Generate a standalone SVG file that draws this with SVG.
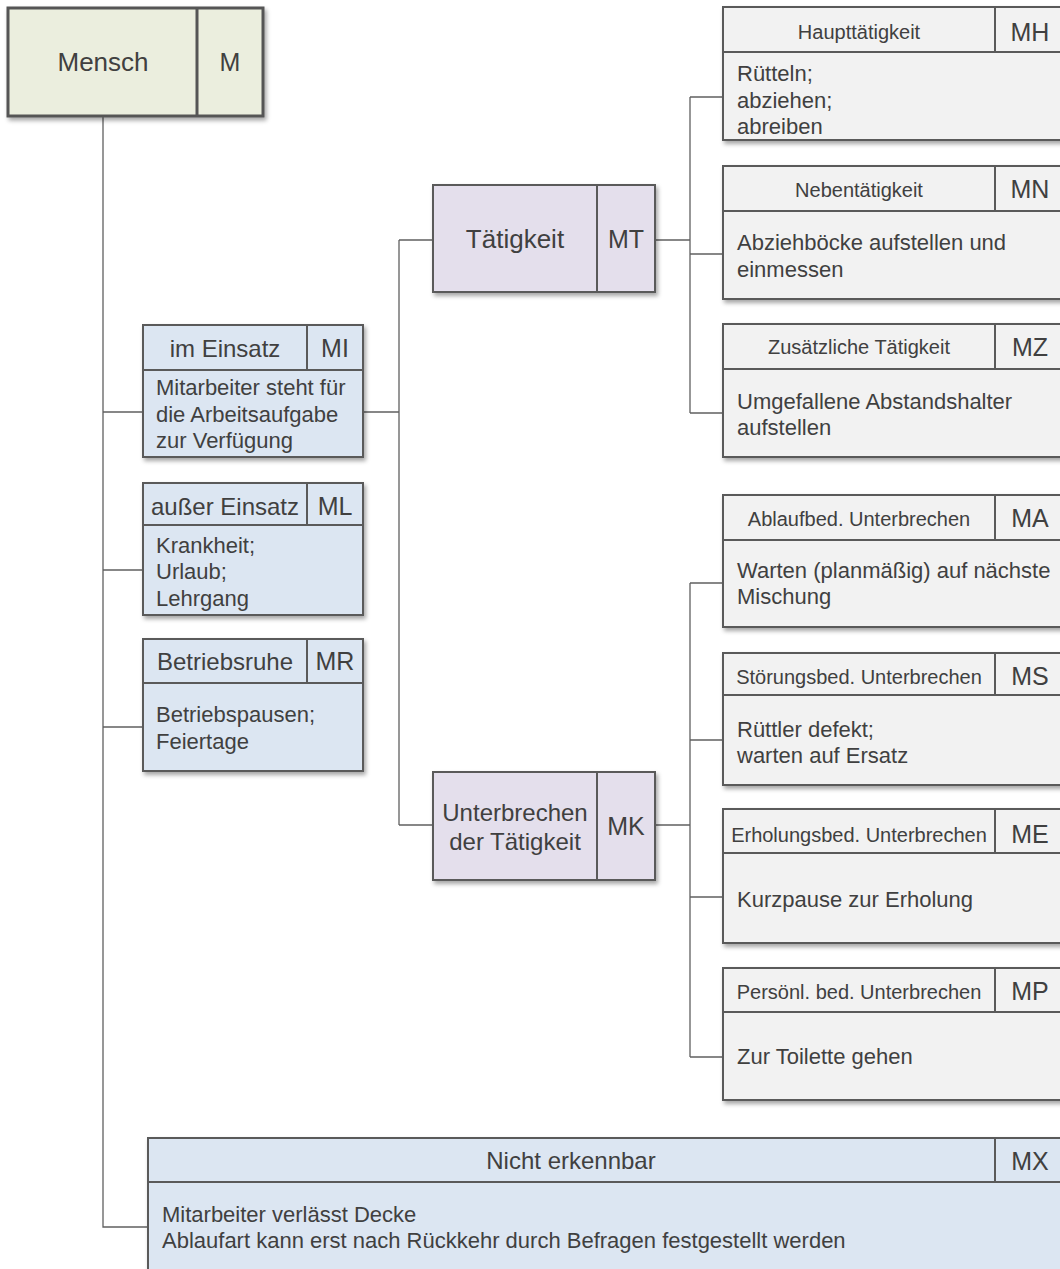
<svg xmlns="http://www.w3.org/2000/svg" width="1060" height="1269" viewBox="0 0 1060 1269">
  <defs>
    <filter id="shadow" x="-5%" y="-5%" width="115%" height="120%">
      <feDropShadow dx="2" dy="3" stdDeviation="2" flood-color="#000" flood-opacity="0.35"/>
    </filter>
  </defs>
  <style>
    text { font-family: "Liberation Sans", Arial, sans-serif; fill: #404040; }
    .box { stroke: #5a5a5a; stroke-width: 2; filter: url(#shadow); }
    .root { fill: #EBEEDE; stroke: #555; stroke-width: 3; filter: url(#shadow); }
    .blue { fill: #DCE6F2; }
    .lav { fill: #E4DFEC; }
    .grey { fill: #F2F2F2; }
    .div { stroke: #5a5a5a; stroke-width: 2; fill: none; }
    .div3 { stroke: #555; stroke-width: 3; fill: none; }
    .conn { stroke: #606060; stroke-width: 1.3; fill: none; }
    .big { font-size: 26px; text-anchor: middle; }
    .mid { font-size: 24px; text-anchor: middle; }
    .code { font-size: 25px; text-anchor: middle; }
    .hdr { font-size: 20px; text-anchor: middle; }
    .body { font-size: 22px; }
  </style>

  <!-- connectors -->
  <g id="connectors">
    <path class="conn" d="M103 116 V1227 H148"/>
    <path class="conn" d="M103 412 H143 M103 570 H143 M103 727 H143"/>
    <path class="conn" d="M363 412 H399 M399 240 V825 M399 240 H433 M399 825 H433"/>
    <path class="conn" d="M655 240 H690 M690 97 V413 M690 97 H723 M690 254 H723 M690 413 H723"/>
    <path class="conn" d="M655 825 H690 M690 583 V1057 M690 583 H723 M690 740 H723 M690 897 H723 M690 1057 H723"/>
  </g>

  <!-- root -->
  <g id="node-M">
    <rect class="root" x="8" y="8" width="255" height="108"/>
    <line class="div3" x1="197" y1="8" x2="197" y2="116"/>
    <text class="big" x="103" y="71">Mensch</text>
    <text class="code" x="230" y="71">M</text>
  </g>

  <!-- level 1 -->
  <g id="node-MI">
    <rect class="box blue" x="143" y="325" width="220" height="132"/>
    <path class="div" d="M143 370 H363 M307 325 V370"/>
    <text class="mid" x="225" y="357">im Einsatz</text>
    <text class="code" x="335" y="357">MI</text>
    <text class="body" x="156" y="395">Mitarbeiter steht für</text>
    <text class="body" x="156" y="421.5">die Arbeitsaufgabe</text>
    <text class="body" x="156" y="448">zur Verfügung</text>
  </g>

  <g id="node-ML">
    <rect class="box blue" x="143" y="483" width="220" height="132"/>
    <path class="div" d="M143 525 H363 M307 483 V525"/>
    <text class="mid" x="225" y="515">außer Einsatz</text>
    <text class="code" x="335" y="515">ML</text>
    <text class="body" x="156" y="553">Krankheit;</text>
    <text class="body" x="156" y="579">Urlaub;</text>
    <text class="body" x="156" y="605.5">Lehrgang</text>
  </g>

  <g id="node-MR">
    <rect class="box blue" x="143" y="639" width="220" height="132"/>
    <path class="div" d="M143 683 H363 M307 639 V683"/>
    <text class="mid" x="225" y="670">Betriebsruhe</text>
    <text class="code" x="335" y="670">MR</text>
    <text class="body" x="156" y="722">Betriebspausen;</text>
    <text class="body" x="156" y="748.5">Feiertage</text>
  </g>

  <!-- level 2 -->
  <g id="node-MT">
    <rect class="box lav" x="433" y="185" width="222" height="107"/>
    <line class="div" x1="597" y1="185" x2="597" y2="292"/>
    <text class="big" x="515" y="248">Tätigkeit</text>
    <text class="code" x="626" y="248">MT</text>
  </g>

  <g id="node-MK">
    <rect class="box lav" x="433" y="772" width="222" height="108"/>
    <line class="div" x1="597" y1="772" x2="597" y2="880"/>
    <text class="mid" x="515" y="821">Unterbrechen</text>
    <text class="mid" x="515" y="850">der Tätigkeit</text>
    <text class="code" x="626" y="835">MK</text>
  </g>

  <!-- level 3: activities -->
  <g id="node-MH">
    <rect class="box grey" x="723" y="7" width="345" height="133"/>
    <path class="div" d="M723 52 H1068 M995 7 V52"/>
    <text class="hdr" x="859" y="39">Haupttätigkeit</text>
    <text class="code" x="1030" y="41">MH</text>
    <text class="body" x="737" y="81">Rütteln;</text>
    <text class="body" x="737" y="107.5">abziehen;</text>
    <text class="body" x="737" y="134">abreiben</text>
  </g>

  <g id="node-MN">
    <rect class="box grey" x="723" y="166" width="345" height="133"/>
    <path class="div" d="M723 211 H1068 M995 166 V211"/>
    <text class="hdr" x="859" y="197">Nebentätigkeit</text>
    <text class="code" x="1030" y="198">MN</text>
    <text class="body" x="737" y="250">Abziehböcke aufstellen und</text>
    <text class="body" x="737" y="276.5">einmessen</text>
  </g>

  <g id="node-MZ">
    <rect class="box grey" x="723" y="324" width="345" height="133"/>
    <path class="div" d="M723 369 H1068 M995 324 V369"/>
    <text class="hdr" x="859" y="354">Zusätzliche Tätigkeit</text>
    <text class="code" x="1030" y="356">MZ</text>
    <text class="body" x="737" y="408.5">Umgefallene Abstandshalter</text>
    <text class="body" x="737" y="435">aufstellen</text>
  </g>

  <!-- level 3: interruptions -->
  <g id="node-MA">
    <rect class="box grey" x="723" y="495" width="345" height="132"/>
    <path class="div" d="M723 540 H1068 M995 495 V540"/>
    <text class="hdr" x="859" y="526">Ablaufbed. Unterbrechen</text>
    <text class="code" x="1030" y="527">MA</text>
    <text class="body" x="737" y="577.5">Warten (planmäßig) auf nächste</text>
    <text class="body" x="737" y="603.5">Mischung</text>
  </g>

  <g id="node-MS">
    <rect class="box grey" x="723" y="653" width="345" height="132"/>
    <path class="div" d="M723 695 H1068 M995 653 V695"/>
    <text class="hdr" x="859" y="684">Störungsbed. Unterbrechen</text>
    <text class="code" x="1030" y="685">MS</text>
    <text class="body" x="737" y="737">Rüttler defekt;</text>
    <text class="body" x="737" y="763">warten auf Ersatz</text>
  </g>

  <g id="node-ME">
    <rect class="box grey" x="723" y="809" width="345" height="134"/>
    <path class="div" d="M723 853 H1068 M995 809 V853"/>
    <text class="hdr" x="859" y="842">Erholungsbed. Unterbrechen</text>
    <text class="code" x="1030" y="843">ME</text>
    <text class="body" x="737" y="907">Kurzpause zur Erholung</text>
  </g>

  <g id="node-MP">
    <rect class="box grey" x="723" y="968" width="345" height="132"/>
    <path class="div" d="M723 1012 H1068 M995 968 V1012"/>
    <text class="hdr" x="859" y="999">Persönl. bed. Unterbrechen</text>
    <text class="code" x="1030" y="1000">MP</text>
    <text class="body" x="737" y="1063.5">Zur Toilette gehen</text>
  </g>

  <!-- not identifiable -->
  <g id="node-MX">
    <rect class="box blue" x="148" y="1138" width="920" height="140"/>
    <path class="div" d="M148 1182 H1068 M995 1138 V1182"/>
    <text class="mid" x="571" y="1169">Nicht erkennbar</text>
    <text class="code" x="1030" y="1170">MX</text>
    <text class="body" x="162" y="1222">Mitarbeiter verlässt Decke</text>
    <text class="body" x="162" y="1247.5">Ablaufart kann erst nach Rückkehr durch Befragen festgestellt werden</text>
  </g>
</svg>
